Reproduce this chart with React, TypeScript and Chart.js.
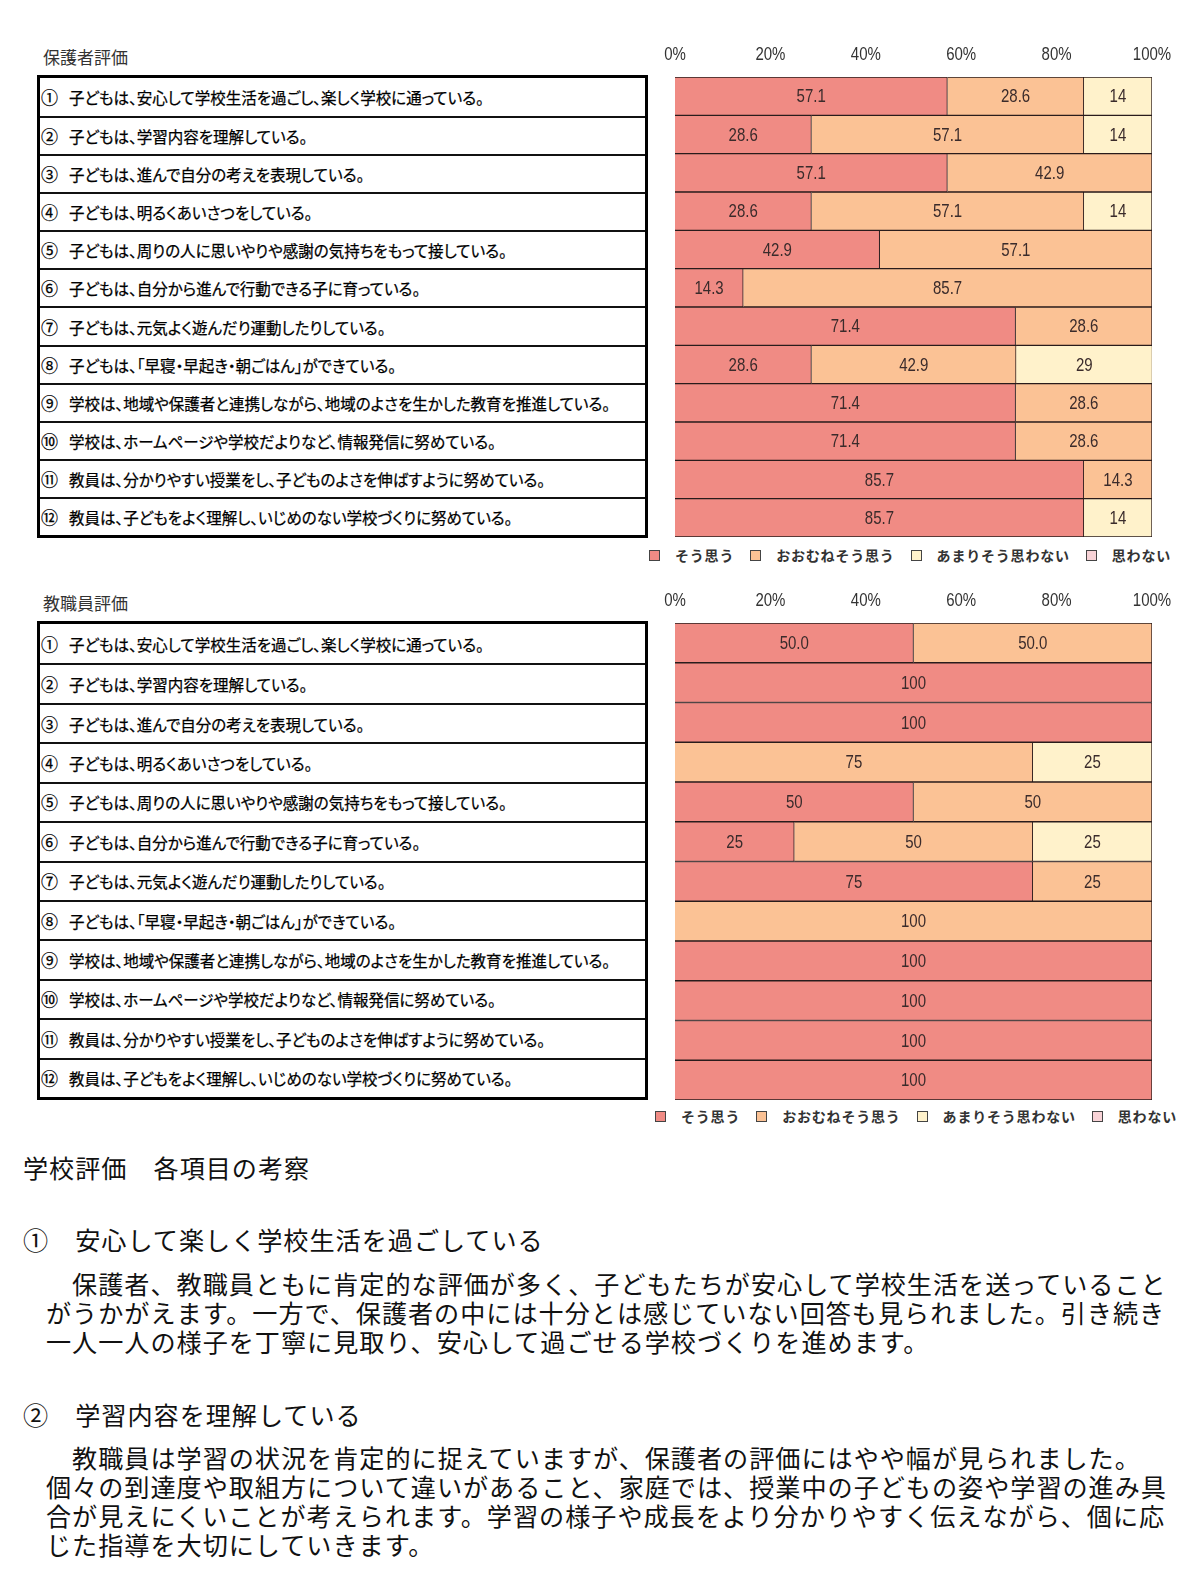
import React, { useEffect, useRef } from "react";
import { Chart, registerables } from "chart.js";

Chart.register(...registerables);

// ---------- data ----------
const itemNumbers = ["①", "②", "③", "④", "⑤", "⑥", "⑦", "⑧", "⑨", "⑩", "⑪", "⑫"];
const itemLabels = [
  "子どもは、安心して学校生活を過ごし、楽しく学校に通っている。",
  "子どもは、学習内容を理解している。",
  "子どもは、進んで自分の考えを表現している。",
  "子どもは、明るくあいさつをしている。",
  "子どもは、周りの人に思いやりや感謝の気持ちをもって接している。",
  "子どもは、自分から進んで行動できる子に育っている。",
  "子どもは、元気よく遊んだり運動したりしている。",
  "子どもは、「早寝・早起き・朝ごはん」ができている。",
  "学校は、地域や保護者と連携しながら、地域のよさを生かした教育を推進している。",
  "学校は、ホームページや学校だよりなど、情報発信に努めている。",
  "教員は、分かりやすい授業をし、子どものよさを伸ばすように努めている。",
  "教員は、子どもをよく理解し、いじめのない学校づくりに努めている。",
];
const seriesNames = ["そう思う", "おおむねそう思う", "あまりそう思わない", "思わない"];
const seriesColors = ["#F08B84", "#FBC295", "#FFF2CB", "#F8D3D7"];
const tickValues = [0, 20, 40, 60, 80, 100];
const tickLabels = ["0%", "20%", "40%", "60%", "80%", "100%"];

const parentTitle = "保護者評価";
const parentAgree = [57.1, 28.6, 57.1, 28.6, 42.9, 14.3, 71.4, 28.6, 71.4, 71.4, 85.7, 85.7];
const parentMostly = [28.6, 57.1, 42.9, 57.1, 57.1, 85.7, 28.6, 42.9, 28.6, 28.6, 14.3, null];
const parentNotMuch = [14.3, 14.3, null, 14.3, null, null, null, 28.6, null, null, null, 14.3];
const parentDisagree = [null, null, null, null, null, null, null, null, null, null, null, null];
const parentAgreeText = ["57.1", "28.6", "57.1", "28.6", "42.9", "14.3", "71.4", "28.6", "71.4", "71.4", "85.7", "85.7"];
const parentMostlyText = ["28.6", "57.1", "42.9", "57.1", "57.1", "85.7", "28.6", "42.9", "28.6", "28.6", "14.3", ""];
const parentNotMuchText = ["14", "14", "", "14", "", "", "", "29", "", "", "", "14"];
const parentDisagreeText = ["", "", "", "", "", "", "", "", "", "", "", ""];

const teacherTitle = "教職員評価";
const teacherAgree = [50, 100, 100, null, 50, 25, 75, null, 100, 100, 100, 100];
const teacherMostly = [50, null, null, 75, 50, 50, 25, 100, null, null, null, null];
const teacherNotMuch = [null, null, null, 25, null, 25, null, null, null, null, null, null];
const teacherDisagree = [null, null, null, null, null, null, null, null, null, null, null, null];
const teacherAgreeText = ["50.0", "100", "100", "", "50", "25", "75", "", "100", "100", "100", "100"];
const teacherMostlyText = ["50.0", "", "", "75", "50", "50", "25", "100", "", "", "", ""];
const teacherNotMuchText = ["", "", "", "25", "", "25", "", "", "", "", "", ""];
const teacherDisagreeText = ["", "", "", "", "", "", "", "", "", "", "", ""];

const reportHeading = "学校評価　各項目の考察";
const section1Title = "①　安心して楽しく学校生活を過ごしている";
const section1Lines = [
  "　保護者、教職員ともに肯定的な評価が多く、子どもたちが安心して学校生活を送っていること",
  "がうかがえます。一方で、保護者の中には十分とは感じていない回答も見られました。引き続き",
  "一人一人の様子を丁寧に見取り、安心して過ごせる学校づくりを進めます。",
];
const section2Title = "②　学習内容を理解している";
const section2Lines = [
  "　教職員は学習の状況を肯定的に捉えていますが、保護者の評価にはやや幅が見られました。",
  "個々の到達度や取組方について違いがあること、家庭では、授業中の子どもの姿や学習の進み具",
  "合が見えにくいことが考えられます。学習の様子や成長をより分かりやすく伝えながら、個に応",
  "じた指導を大切にしていきます。",
];

// ---------- styles ----------
const NUM_FONT = "'Liberation Sans', Arial, sans-serif";
const JP_FONT = "'Noto Sans CJK JP', 'Noto Sans', sans-serif";
const NARROW = 0.79;

function drawNarrow(ctx: CanvasRenderingContext2D, text: string, x: number, y: number) {
  ctx.save();
  ctx.translate(x, y);
  ctx.scale(NARROW, 1);
  ctx.fillText(text, 0, 0);
  ctx.restore();
}

const labelPlugin = {
  id: "narrowLabels",
  afterDatasetsDraw(chart: any) {
    const ctx = chart.ctx;
    ctx.save();
    ctx.textAlign = "center";
    ctx.textBaseline = "middle";
    // values inside segments
    ctx.fillStyle = "#3a2b2b";
    ctx.font = `19px ${NUM_FONT}`;
    chart.data.datasets.forEach((ds: any, di: number) => {
      const meta = chart.getDatasetMeta(di);
      meta.data.forEach((el: any, i: number) => {
        const txt = ds.labelTexts ? ds.labelTexts[i] : "";
        if (!txt || ds.data[i] == null) return;
        const p = el.getCenterPoint();
        drawNarrow(ctx, txt, p.x, p.y + 1);
      });
    });
    // percentage ticks above the plot, from the x scale
    const xs = chart.scales.x;
    const ticks = xs.ticks && xs.ticks.length ? xs.ticks.map((t: any) => t.value) : tickValues;
    ctx.fillStyle = "#333";
    ctx.font = `19px ${NUM_FONT}`;
    ticks.forEach((v: number, i: number) => {
      drawNarrow(ctx, tickLabels[i], xs.getPixelForValue(v), chart.chartArea.top - 22);
    });
    ctx.restore();
  },
};

function makeConfig(
  values: (number | null)[][],
  texts: string[][],
  padTop: number,
  padBottom: number
): any {
  return {
    type: "bar",
    data: {
      labels: itemLabels,
      datasets: values.map((v, k) => ({
        label: seriesNames[k],
        data: v,
        labelTexts: texts[k],
        backgroundColor: seriesColors[k],
        borderColor: "#2a1c1c",
        borderWidth: 1,
        borderSkipped: "start",
        barPercentage: 1,
        categoryPercentage: 1,
      })),
    },
    options: {
      indexAxis: "y",
      animation: false,
      responsive: false,
      maintainAspectRatio: false,
      layout: { padding: { left: 35, right: 28, top: padTop, bottom: padBottom } },
      plugins: { legend: { display: false }, tooltip: { enabled: false } },
      scales: {
        x: {
          stacked: true,
          display: false,
          min: 0,
          max: 100,
          ticks: { stepSize: 20 },
        },
        y: { stacked: true, display: false },
      },
    },
    plugins: [labelPlugin],
  };
}

function BarChart(props: {
  left: number;
  top: number;
  width: number;
  height: number;
  values: (number | null)[][];
  texts: string[][];
  padTop: number;
  padBottom: number;
}) {
  const ref = useRef<HTMLCanvasElement | null>(null);
  useEffect(() => {
    if (!ref.current) return;
    const chart = new Chart(ref.current, makeConfig(props.values, props.texts, props.padTop, props.padBottom));
    return () => chart.destroy();
  }, []);
  return (
    <canvas
      ref={ref}
      width={props.width}
      height={props.height}
      style={{ position: "absolute", left: props.left, top: props.top, width: props.width, height: props.height }}
    />
  );
}

function ItemTable(props: { left: number; top: number; width: number; height: number }) {
  return (
    <div
      style={{
        position: "absolute",
        left: props.left,
        top: props.top,
        width: props.width,
        height: props.height,
        border: "3px solid #000",
        boxSizing: "border-box",
        display: "grid",
        gridTemplateRows: "repeat(12, 1fr)",
        background: "#fff",
      }}
    >
      {itemLabels.map((t, i) => (
        <div
          key={i}
          style={{
            borderTop: i === 0 ? "none" : "2px solid #111",
            position: "relative",
            fontFamily: JP_FONT,
            color: "#000",
            whiteSpace: "nowrap",
            WebkitTextStroke: "0.25px #000",
          }}
        >
          <span style={{ position: "absolute", left: 1, fontSize: 17, top: "50%", transform: "translateY(-53%)" }}>
            {itemNumbers[i]}
          </span>
          <span
            style={{
              position: "absolute",
              left: 29,
              fontSize: 15.5,
              top: "50%",
              transform: "translateY(-52%)",
              fontFeatureSettings: "'palt'",
            }}
          >
            {t}
          </span>
        </div>
      ))}
    </div>
  );
}

function Legend(props: { left: number; top: number }) {
  return (
    <div
      style={{
        position: "absolute",
        left: props.left,
        top: props.top,
        height: 18,
        display: "flex",
        alignItems: "center",
        whiteSpace: "nowrap",
        fontFamily: JP_FONT,
        fontSize: 14,
        fontWeight: 700,
        letterSpacing: 0.8,
        color: "#333",
      }}
    >
      {seriesNames.map((n, i) => (
        <React.Fragment key={i}>
          <span
            style={{
              display: "inline-block",
              width: 11,
              height: 11,
              boxSizing: "border-box",
              border: "1px solid #444",
              background: seriesColors[i],
              marginRight: 15,
            }}
          />
          <span style={{ marginRight: 16 }}>{n}</span>
        </React.Fragment>
      ))}
    </div>
  );
}

const textStyle: React.CSSProperties = {
  position: "absolute",
  fontFamily: JP_FONT,
  fontSize: 25.12,
  letterSpacing: 1,
  color: "#111",
  whiteSpace: "nowrap",
  lineHeight: "29px",
};

export default function App() {
  return (
    <div style={{ position: "absolute", left: 0, top: 0, width: 1200, height: 1582, background: "#fff", overflow: "hidden" }}>
      <div style={{ position: "absolute", left: 43, top: 46, fontFamily: JP_FONT, fontSize: 17, color: "#333", lineHeight: "22px" }}>
        {parentTitle}
      </div>
      <ItemTable left={37} top={75} width={611} height={463} />
      <BarChart
        left={640}
        top={40}
        width={540}
        height={500}
        values={[parentAgree, parentMostly, parentNotMuch, parentDisagree]}
        texts={[parentAgreeText, parentMostlyText, parentNotMuchText, parentDisagreeText]}
        padTop={37}
        padBottom={3}
      />
      <Legend left={649} top={546} />

      <div style={{ position: "absolute", left: 43, top: 592, fontFamily: JP_FONT, fontSize: 17, color: "#333", lineHeight: "22px" }}>
        {teacherTitle}
      </div>
      <ItemTable left={37} top={621} width={611} height={479} />
      <BarChart
        left={640}
        top={584}
        width={540}
        height={520}
        values={[teacherAgree, teacherMostly, teacherNotMuch, teacherDisagree]}
        texts={[teacherAgreeText, teacherMostlyText, teacherNotMuchText, teacherDisagreeText]}
        padTop={39}
        padBottom={4}
      />
      <Legend left={655} top={1107} />

      <div style={{ ...textStyle, left: 23, top: 1153 }}>{reportHeading}</div>
      <div style={{ ...textStyle, left: 23, top: 1225 }}>{section1Title}</div>
      <div style={{ ...textStyle, left: 46, top: 1269 }}>
        {section1Lines.map((l, i) => (
          <div key={i}>{l}</div>
        ))}
      </div>
      <div style={{ ...textStyle, left: 23, top: 1400 }}>{section2Title}</div>
      <div style={{ ...textStyle, left: 46, top: 1443 }}>
        {section2Lines.map((l, i) => (
          <div key={i}>{l}</div>
        ))}
      </div>
    </div>
  );
}
